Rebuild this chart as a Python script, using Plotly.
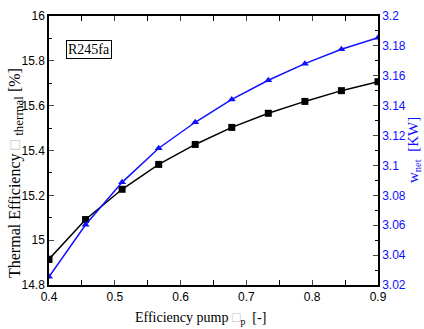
import plotly.graph_objects as go

pump_eff = [0.4, 0.4556, 0.5111, 0.5667, 0.6222, 0.6778, 0.7333, 0.7889, 0.8444, 0.9]
thermal_eff = [14.915, 15.092, 15.227, 15.338, 15.427, 15.503, 15.566, 15.619, 15.667, 15.707]
w_net = [3.0255, 3.0603, 3.0887, 3.1115, 3.1289, 3.1442, 3.157, 3.1681, 3.1777, 3.1855]

fig = go.Figure()
fig.add_trace(go.Scatter(x=pump_eff, y=thermal_eff, mode="lines+markers",
                         line=dict(color="black", width=1.5),
                         marker=dict(symbol="square", size=7, color="black"),
                         showlegend=False))
fig.add_trace(go.Scatter(x=pump_eff, y=w_net, mode="lines+markers", yaxis="y2",
                         line=dict(color="#1010ff", width=1.5),
                         marker=dict(symbol="triangle-up", size=7, color="#1010ff"),
                         showlegend=False))

tickfont = dict(family="Liberation Sans, Arial", size=12, color="black")
serif = "Liberation Serif, Times New Roman"
box = "<span style='color:#bbbbbb'>□</span>"

fig.update_layout(
    width=424, height=329,
    margin=dict(l=49, r=46, t=16, b=44),
    paper_bgcolor="white", plot_bgcolor="white",
    xaxis=dict(range=[0.4, 0.9], dtick=0.1, tick0=0.4, ticks="inside", ticklen=5,
               showline=True, linecolor="black", linewidth=1.5, mirror="allticks",
               showgrid=False, zeroline=False, tickfont=tickfont, automargin=False,
               minor=dict(dtick=0.05, ticks="inside", ticklen=3, tickcolor="black")),
    yaxis=dict(range=[14.8, 16], dtick=0.2, ticks="inside", ticklen=5,
               showline=True, linecolor="black", linewidth=1.5, mirror=False,
               showgrid=False, zeroline=False, tickfont=tickfont, automargin=False,
               minor=dict(dtick=0.1, ticks="inside", ticklen=3, tickcolor="black")),
    yaxis2=dict(range=[3.02, 3.2], dtick=0.02, overlaying="y", side="right",
                ticks="inside", ticklen=5, showline=True, linecolor="black", linewidth=1.5,
                showgrid=False, zeroline=False, automargin=False,
                tickfont=dict(family="Liberation Sans, Arial", size=12, color="#1010ff"),
                minor=dict(dtick=0.01, ticks="inside", ticklen=3, tickcolor="black")),
)

annots = [
    dict(text="R245fa", x=(66 - 49) / 329, y=1 - (49 - 16) / 269, xref="paper", yref="paper",
         xanchor="left", yanchor="middle", showarrow=False,
         font=dict(family=serif, size=14, color="black"),
         bordercolor="black", borderwidth=1, borderpad=1, bgcolor="white"),
    dict(text="Efficiency pump " + box + "<sub>p</sub>  [-]",
         x=(200 - 49) / 329, y=-(318 - 285) / 269, xref="paper", yref="paper",
         xanchor="center", yanchor="middle", showarrow=False,
         font=dict(family=serif, size=14, color="black")),
    dict(text="Thermal Efficiency " + box + " <sub><span style='font-size:13px'>thermal</span></sub> [%]",
         x=-(49 - 16) / 329, y=1 - (173 - 16) / 269, xref="paper", yref="paper",
         xanchor="center", yanchor="middle", textangle=-90, showarrow=False,
         font=dict(family=serif, size=16, color="black")),
    dict(text="w<sub>net</sub>  [KW]",
         x=1 + (414 - 378) / 329, y=1 - (150 - 16) / 269, xref="paper", yref="paper",
         xanchor="center", yanchor="middle", textangle=-90, showarrow=False,
         font=dict(family=serif, size=15, color="#1010ff")),
]
fig.update_layout(annotations=annots)

fig.write_html("out.html", config={"displayModeBar": False},
               post_script="document.body.style.margin='0';document.body.style.overflow='hidden';")
